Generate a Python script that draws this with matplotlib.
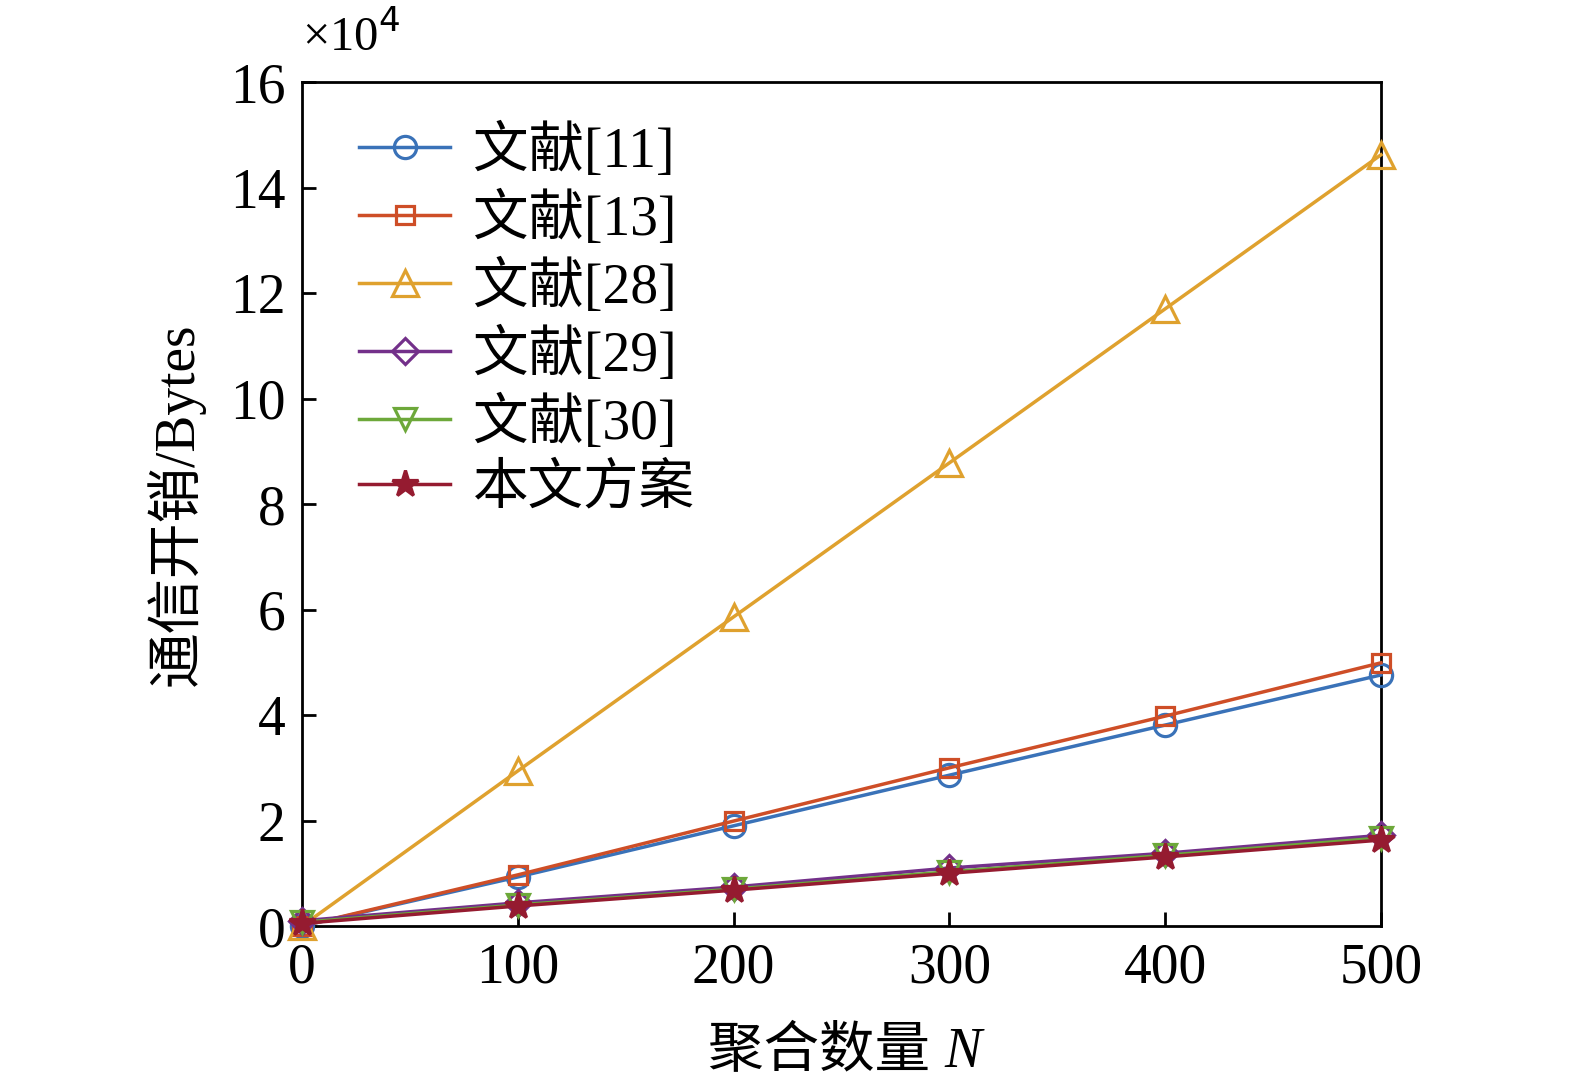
import matplotlib
matplotlib.use("Agg")
import matplotlib.pyplot as plt

plt.rcParams['font.family'] = ['Liberation Serif', 'Noto Sans CJK SC']
plt.rcParams['axes.unicode_minus'] = False

# 聚合数量 N
n_values = [0, 100, 200, 300, 400, 500]

# 通信开销, 单位 10^4 Bytes
ref11 = [0.0, 0.93, 1.90, 2.86, 3.81, 4.76]
ref13 = [0.0, 0.97, 1.99, 3.00, 3.98, 4.99]
ref28 = [0.0, 2.94, 5.86, 8.78, 11.70, 14.62]
ref29 = [0.10, 0.44, 0.74, 1.10, 1.38, 1.72]
ref30 = [0.07, 0.40, 0.70, 1.03, 1.34, 1.67]
ours = [0.05, 0.38, 0.68, 1.00, 1.31, 1.63]

labels = ['文献[11]', '文献[13]', '文献[28]', '文献[29]', '文献[30]', '本文方案']
yticks = [0, 2, 4, 6, 8, 10, 12, 14, 16]
xticks = [0, 100, 200, 300, 400, 500]

colors = ['#3A72B8', '#CE4E27', '#DFA12E', '#73308A', '#6DA83A', '#951B30']
markers = ['o', 's', '^', 'D', 'v', '*']
sizes = [16, 13, 19, 13, 16, 20]

fig = plt.figure(figsize=(15.75, 10.85), dpi=100)
ax = fig.add_axes([0.1917, 0.1465, 0.6851, 0.7779])

series = [ref11, ref13, ref28, ref29, ref30, ours]
for vals, lab, c, m, s in zip(series, labels, colors, markers, sizes):
    face = c if m == '*' else 'none'
    ax.plot(n_values, vals, color=c, marker=m, markersize=s, linewidth=2.5,
            markerfacecolor=face, markeredgecolor=c, markeredgewidth=2.3,
            label=lab, clip_on=False, zorder=3)

ax.set_xlim(0, 500)
ax.set_ylim(0, 16)
ax.set_xticks(xticks)
ax.set_yticks(yticks)
ax.tick_params(direction='in', length=10, width=2, labelsize=40, pad=12)
for sp in ax.spines.values():
    sp.set_linewidth(2)
    sp.set_color('black')

ax.text(0.0, 1.025, r'×10$^4$', transform=ax.transAxes, fontsize=35,
        ha='left', va='bottom')

ax.set_ylabel('通信开销/Bytes', fontsize=40, labelpad=18)
ax.text(0.595, -0.12, '聚合数量 ', transform=ax.transAxes, fontsize=40,
        ha='right', va='top')
ax.text(0.595, -0.12, 'N', transform=ax.transAxes, fontsize=40,
        ha='left', va='top', style='italic')

ax.legend(loc='upper left', frameon=False, fontsize=40, handlelength=1.65,
          labelspacing=0.23, handletextpad=0.4, borderaxespad=0.0,
          bbox_to_anchor=(0.032, 0.977))

fig.savefig('out.png', dpi=100)
